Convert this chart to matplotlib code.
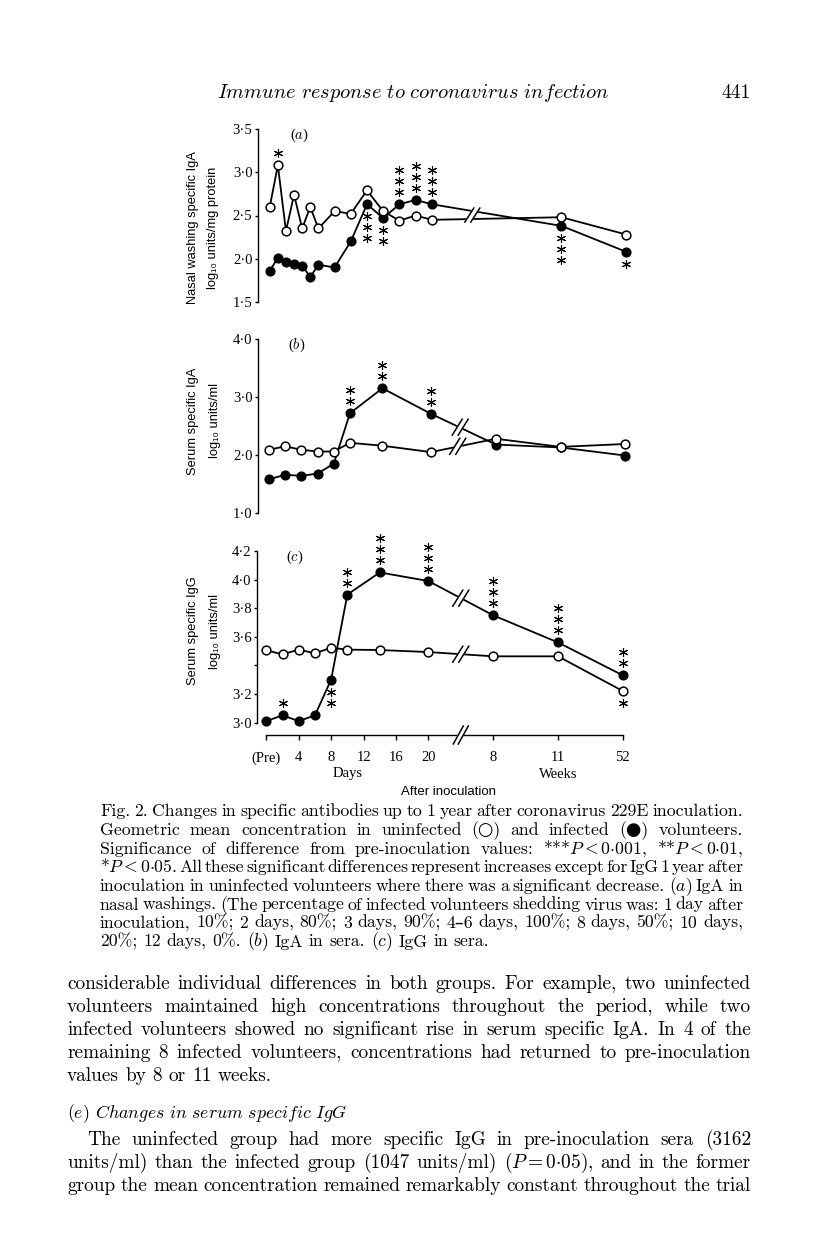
import numpy as np
import matplotlib
matplotlib.use('Agg')
import matplotlib.pyplot as plt
from matplotlib.transforms import offset_copy

plt.rcParams['mathtext.fontset'] = 'cm'

W, H = 816, 1251
SERIF = ['Liberation Serif', 'DejaVu Serif']
SANS = ['Liberation Sans', 'DejaVu Sans']
BOOK = ['cmr10', 'DejaVu Sans']

# days are plotted as-is, weeks sit after the axis break
week_pos = {8: 28, 11: 36, 52: 44}

# (a) nasal washing IgA
a_days = [0, 1, 2, 3, 4, 5, 6, 8, 10, 12, 14, 16, 18, 20]
a_weeks = [11, 52]
a_uninf = [2.60, 3.08, 2.32, 2.74, 2.35, 2.60, 2.35, 2.55, 2.52, 2.79, 2.55, 2.44, 2.50, 2.45, 2.48, 2.28]
a_inf = [1.86, 2.01, 1.96, 1.94, 1.92, 1.79, 1.93, 1.90, 2.20, 2.63, 2.47, 2.63, 2.68, 2.63, 2.38, 2.08]
# (group, point index, number of stars, +1 above / -1 below)
a_sig = [('u', 1, 1, 1), ('i', 9, 3, -1), ('i', 10, 2, -1), ('i', 11, 3, 1),
         ('i', 12, 3, 1), ('i', 13, 3, 1), ('i', 14, 3, -1), ('i', 15, 1, -1)]

# (b) serum IgA
b_days = [0, 2, 4, 6, 8, 10, 14, 20]
b_weeks = [8, 11, 52]
b_uninf = [2.09, 2.15, 2.09, 2.06, 2.06, 2.21, 2.16, 2.05, 2.28, 2.14, 2.19]
b_inf = [1.58, 1.66, 1.64, 1.68, 1.85, 2.72, 3.15, 2.71, 2.18, 2.13, 1.99]
b_sig = [('i', 5, 2, 1), ('i', 6, 2, 1), ('i', 7, 2, 1)]

# (c) serum IgG
c_days = [0, 2, 4, 6, 8, 10, 14, 20]
c_weeks = [8, 11, 52]
c_uninf = [3.505, 3.477, 3.51, 3.484, 3.523, 3.51, 3.507, 3.493, 3.463, 3.463, 3.22]
c_inf = [3.01, 3.05, 3.01, 3.05, 3.30, 3.895, 4.05, 3.99, 3.75, 3.56, 3.33]
c_sig = [('i', 1, 1, 1), ('i', 4, 2, -1), ('i', 5, 2, 1), ('i', 6, 3, 1), ('i', 7, 3, 1),
         ('i', 8, 3, 1), ('i', 9, 3, 1), ('i', 10, 2, 1), ('u', 10, 1, -1)]
c_tick_days = [0, 4, 8, 12, 16, 20]
c_tick_weeks = [8, 11, 52]
c_tick_labels = ['(Pre)', '4', '8', '12', '16', '20', '8', '11', '52']

fig = plt.figure(figsize=(W / 100, H / 100), dpi=100)
fig.patch.set_facecolor('white')


def add_ax(left, top, bottom, width=376):
    return fig.add_axes([left / W, 1 - bottom / H, width / W, (bottom - top) / H])


def brk(ax, x, y, dy=0, w=5, h=8, gap=6):
    # double slash cutting a line at (x, y)
    cx, cy = ax.transData.transform((x, y))
    cy += dy
    quad = ax.transData.inverted().transform(
        [(cx - gap / 2 - w, cy - h), (cx - gap / 2 + w, cy + h),
         (cx + gap / 2 + w, cy + h), (cx + gap / 2 - w, cy - h)])
    ax.fill(quad[:, 0], quad[:, 1], color='white', zorder=6, clip_on=False)
    for i, j in ((0, 1), (3, 2)):
        ax.plot(quad[[i, j], 0], quad[[i, j], 1], color='k', lw=1.1, zorder=7, clip_on=False)


def panel(ax, days, weeks, uninf, inf, sig, ylim, yticks, ylabels, x_left):
    x = list(days) + [week_pos[w] for w in weeks]
    ax.set_xlim(x_left, x_left + 46.4)
    ax.set_ylim(*ylim)
    ax.patch.set_alpha(0)
    for s in ('top', 'right', 'bottom'):
        ax.spines[s].set_visible(False)
    ax.spines['left'].set_linewidth(1.0)
    ax.set_xticks([])
    ax.set_yticks(yticks, ylabels, fontfamily=SERIF, fontsize=10.5)
    ax.tick_params(axis='y', length=2.5, width=1.0, pad=1.5)
    ax.plot(x, inf, color='k', lw=1.3, marker='o', ms=6.3, mfc='k', mec='k',
            zorder=3, clip_on=False)
    ax.plot(x, uninf, color='k', lw=1.3, marker='o', ms=6.3, mfc='white', mec='k',
            mew=1.1, zorder=4, clip_on=False)
    for grp, i, n, d in sig:
        y = (uninf if grp == 'u' else inf)[i]
        for k in range(n):
            tr = offset_copy(ax.transData, fig=fig, x=0, y=d * (12 + 11 * k), units='dots')
            ax.plot([x[i]], [y], ls='none', marker=(6, 2, 0), ms=6.5, mec='k', mew=0.8,
                    transform=tr, clip_on=False, zorder=5)
    return x


# ---- panel (a)
ax_a = add_ax(258, 129, 302)
panel(ax_a, a_days, a_weeks, a_uninf, a_inf, a_sig, (1.5, 3.5),
      [1.5, 2.0, 2.5, 3.0, 3.5], ['1·5', '2·0', '2·5', '3·0', '3·5'], -1.45)
brk(ax_a, 25, 2.505, w=4.5, h=7, gap=6)

# ---- panel (b)
ax_b = add_ax(258, 339, 513)
panel(ax_b, b_days, b_weeks, b_uninf, b_inf, b_sig, (1.0, 4.0),
      [1.0, 2.0, 3.0, 4.0], ['1·0', '2·0', '3·0', '4·0'], -1.35)
brk(ax_b, 23.6, 2.48)
brk(ax_b, 23.3, 2.15)

# ---- panel (c)
ax_c = add_ax(257, 551, 722.5)
panel(ax_c, c_days, c_weeks, c_uninf, c_inf, c_sig, (3.0, 4.2),
      [3.0, 3.2, 3.4, 3.6, 3.8, 4.0, 4.2], ['3·0', '3·2', '', '3·6', '3·8', '4·0', '4·2'], -1.15)
ax_c.spines['bottom'].set_visible(True)
ax_c.spines['bottom'].set_linewidth(1.0)
ax_c.spines['bottom'].set_position(('outward', 9))
ax_c.spines['bottom'].set_bounds(0, 44)
ax_c.set_xticks(c_tick_days + [week_pos[w] for w in c_tick_weeks], c_tick_labels,
                fontfamily=SERIF, fontsize=10.5)
ax_c.tick_params(axis='x', length=3.6, width=1.0, pad=8)
brk(ax_c, 24, 3.87)
brk(ax_c, 24, 3.478)
brk(ax_c, 24, 3.0, dy=-12.5, w=5, h=9, gap=5)


def ftext(x, y, s, **kw):
    return fig.text(x / W, 1 - y / H, s, **kw)


# panel letters and axis titles
for lab, (px, py) in zip(['($a$)', '($b$)', '($c$)'], [(299, 135), (297, 345), (295, 557)]):
    ftext(px, py, lab, family=SERIF, fontsize=10.5, ha='center', va='center')

for (x1, x2, y, t1, t2) in [(193, 213, 228, 'Nasal washing specific IgA', 'log₁₀ units/mg protein'),
                            (193, 215, 421, 'Serum specific IgA', 'log₁₀ units/ml'),
                            (193, 215, 631, 'Serum specific IgG', 'log₁₀ units/ml')]:
    ftext(x1, y, t1, family=SANS, fontsize=9.3, rotation=90, ha='center', va='center')
    ftext(x2, y, t2, family=SANS, fontsize=9.3, rotation=90, ha='center', va='center')

ftext(348, 773, 'Days', family=SERIF, fontsize=10.5, ha='center', va='center')
ftext(558, 775, 'Weeks', family=SERIF, fontsize=10.5, ha='center', va='center')
ftext(448, 792, 'After inoculation', family=SANS, fontsize=9.5, ha='center', va='center')

# ---- page text
ftext(413, 93, r'$Immune\ response\ to\ coronavirus\ infection$', fontsize=14.7,
      ha='center', va='center')
ftext(751, 93, '441', family=BOOK, fontsize=14, ha='right', va='center')

R = fig.canvas.get_renderer()


def measure(s, size):
    t = fig.text(0, 0, s, fontsize=size, family=BOOK)
    w = t.get_window_extent(R).width
    t.remove()
    return w


def fit_size(lines, x0, x1, gap_em, ref=10):
    best = 99
    for line in lines:
        words = line.split(' ')
        ws = sum(measure(w, ref) for w in words)
        n = len(words) - 1
        best = min(best, (x1 - x0) / (ws / ref + n * gap_em * 100 / 72))
    return best


def put_line(line, x0, x1, y, size, justify):
    words = line.split(' ')
    texts = [ftext(0, 0, w, family=BOOK, fontsize=size, va='baseline') for w in words]
    widths = [t.get_window_extent(R).width for t in texts]
    gap = size * 100 / 72 * 0.33
    if justify and len(words) > 1:
        gap = (x1 - x0 - sum(widths)) / (len(words) - 1)
    x = x0
    for t, w in zip(texts, widths):
        t.set_position((x / W, 1 - y / H))
        x += w + gap


caption = [
    'Fig. 2. Changes in specific antibodies up to 1 year after coronavirus 229E inoculation.',
    'Geometric mean concentration in uninfected (○) and infected (●) volunteers.',
    r'Significance of difference from pre-inoculation values: ***$P<0{\cdot}001$, **$P<0{\cdot}01$,',
    r'*$P<0{\cdot}05$. All these significant differences represent increases except for IgG 1 year after',
    r'inoculation in uninfected volunteers where there was a significant decrease. ($a$) IgA in',
    'nasal washings. (The percentage of infected volunteers shedding virus was: 1 day after',
    'inoculation, 10%; 2 days, 80%; 3 days, 90%; 4–6 days, 100%; 8 days, 50%; 10 days,',
    r'20%; 12 days, 0%. ($b$) IgA in sera. ($c$) IgG in sera.',
]
para1 = [
    'considerable individual differences in both groups. For example, two uninfected',
    'volunteers maintained high concentrations throughout the period, while two',
    'infected volunteers showed no significant rise in serum specific IgA. In 4 of the',
    'remaining 8 infected volunteers, concentrations had returned to pre-inoculation',
    'values by 8 or 11 weeks.',
]
para2 = [
    'The uninfected group had more specific IgG in pre-inoculation sera (3162',
    r'units/ml) than the infected group (1047 units/ml) ($P=0{\cdot}05$), and in the former',
    'group the mean concentration remained remarkably constant throughout the trial',
]

cap_size = fit_size(caption[:-1], 100, 743, 0.12)
cap_y = [813.3, 832, 850.7, 869.3, 888, 906.5, 925, 943.5]
for i, line in enumerate(caption):
    put_line(line, 100, 743, cap_y[i] + 3, cap_size, i < len(caption) - 1)

body_size = fit_size(para1[:-1] + para2[2:], 67, 751, 0.28)
for i, line in enumerate(para1):
    put_line(line, 67, 751, 985 + 23 * i + 4, body_size, i < len(para1) - 1)

ftext(67, 1114.5 + 4, r'($e$) $Changes\ in\ serum\ specific\ IgG$', family=BOOK,
      fontsize=body_size * 0.93, va='baseline')

for i, line in enumerate(para2):
    put_line(line, 87 if i == 0 else 67, 751, 1141 + 23 * i + 4, body_size, True)

fig.savefig('out.png', dpi=100, facecolor='white')
